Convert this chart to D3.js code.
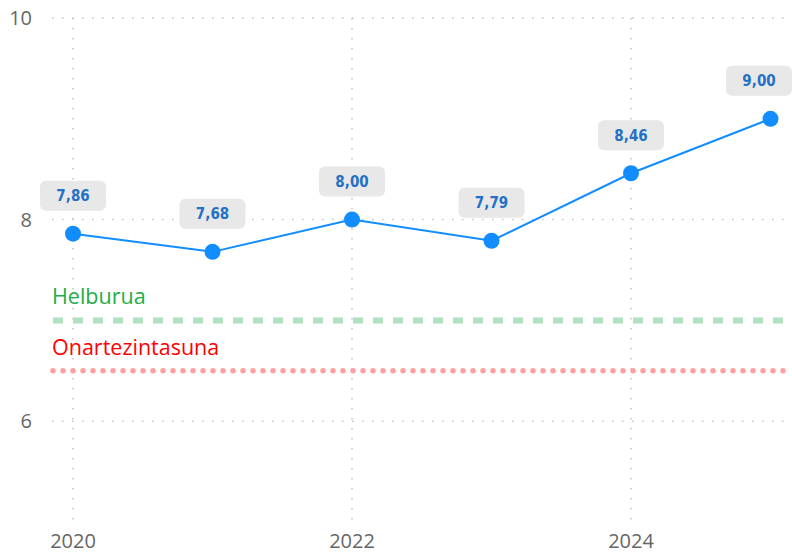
<!DOCTYPE html>
<html>
<head>
<meta charset="utf-8">
<script src="https://cdn.jsdelivr.net/npm/d3@7"></script>
<style>
  body { margin: 0; background: #fff; }
  svg { display: block; }
</style>
</head>
<body>
<div id="chart"></div>
<script>
const width = 792,
    height = 554

const years = [2020, 2021, 2022, 2023, 2024, 2025]
const values = [7.86, 7.68, 8.00, 7.79, 8.46, 9.00]
const yTicks = [6, 8, 10]
const xTicks = [2020, 2022, 2024]
const targetValue = 7        // Helburua
const thresholdValue = 6.5   // Onartezintasuna

const svg = d3.select('#chart')
  .append('svg')
    .attr('width', width)
    .attr('height', height)

const x = d3.scaleLinear().domain([2020, 2025]).range([73, 770.5])
const y = d3.scaleLinear().domain([5, 10]).range([522, 18])

const fmt = v => d3.format('.2f')(v).replace('.', ',')

// grid
svg.append('g')
  .selectAll('line')
  .data(yTicks)
  .join('line')
    .attr('x1', 52).attr('x2', width)
    .attr('y1', d => y(d)).attr('y2', d => y(d))
    .attr('stroke', '#c4c4c4')
    .attr('stroke-width', 1.5)
    .attr('stroke-dasharray', '1.5,8.5')

svg.append('g')
  .selectAll('line')
  .data(xTicks)
  .join('line')
    .attr('x1', d => x(d)).attr('x2', d => x(d))
    .attr('y1', y(10)).attr('y2', y(5))
    .attr('stroke', '#c4c4c4')
    .attr('stroke-width', 1.5)
    .attr('stroke-dasharray', '1.5,8.5')

// axis labels
svg.append('g')
  .selectAll('text')
  .data(yTicks)
  .join('text')
    .attr('x', 32)
    .attr('y', d => y(d))
    .attr('dy', '0.36em')
    .attr('text-anchor', 'end')
    .style('font-family', '"Segoe UI", "Open Sans", sans-serif')
    .style('font-size', '20px')
    .style('fill', '#666')
    .text(d => d)

svg.append('g')
  .selectAll('text')
  .data(xTicks)
  .join('text')
    .attr('x', d => x(d))
    .attr('y', 548)
    .attr('text-anchor', 'middle')
    .style('font-family', '"Segoe UI", "Open Sans", sans-serif')
    .style('font-size', '20px')
    .style('fill', '#666')
    .text(d => d)

// reference lines
svg.append('line')
  .attr('x1', 53).attr('x2', width)
  .attr('y1', y(targetValue)).attr('y2', y(targetValue))
  .attr('stroke', '#b1e0c0')
  .attr('stroke-width', 6)
  .attr('stroke-dasharray', '10,10')

svg.append('text')
  .attr('x', 52).attr('y', y(targetValue) - 16)
  .style('font-family', '"Segoe UI", "Open Sans", sans-serif')
  .style('font-size', '21.5px')
  .style('fill', '#22ad46')
  .text('Helburua')

svg.append('line')
  .attr('x1', 53).attr('x2', width)
  .attr('y1', y(thresholdValue)).attr('y2', y(thresholdValue))
  .attr('stroke', '#ffa0a0')
  .attr('stroke-width', 5.5)
  .attr('stroke-linecap', 'round')
  .attr('stroke-dasharray', '0,10')

svg.append('text')
  .attr('x', 52).attr('y', y(thresholdValue) - 16)
  .style('font-family', '"Segoe UI", "Open Sans", sans-serif')
  .style('font-size', '21.5px')
  .style('fill', '#ff0000')
  .text('Onartezintasuna')

// series line
const line = d3.line()
  .x((d, i) => x(years[i]))
  .y(d => y(d))

svg.append('path')
  .datum(values)
  .attr('d', line)
  .attr('fill', 'none')
  .attr('stroke', '#118dff')
  .attr('stroke-width', 2)

svg.append('g')
  .selectAll('circle')
  .data(values)
  .join('circle')
    .attr('cx', (d, i) => x(years[i]))
    .attr('cy', d => y(d))
    .attr('r', 8)
    .attr('fill', '#118dff')

// data labels
const boxW = 66, boxH = 30
const labels = svg.append('g')
  .selectAll('g')
  .data(values)
  .join('g')
    .attr('transform', (d, i) => {
      let cx = x(years[i])
      cx = Math.min(cx, width - boxW / 2)
      return `translate(${cx}, ${y(d) - 38})`
    })

labels.append('rect')
  .attr('x', -boxW / 2)
  .attr('y', -boxH / 2)
  .attr('width', boxW)
  .attr('height', boxH)
  .attr('rx', 6)
  .attr('fill', '#e8e8e8')

labels.append('text')
  .attr('text-anchor', 'middle')
  .attr('dy', '0.36em')
  .style('font-family', '"DejaVu Sans Condensed", "DejaVu Sans", sans-serif')
  .style('font-weight', 'bold')
  .style('font-size', '15px')
  .style('fill', '#2470c4')
  .text(d => fmt(d))
</script>
</body>
</html>
